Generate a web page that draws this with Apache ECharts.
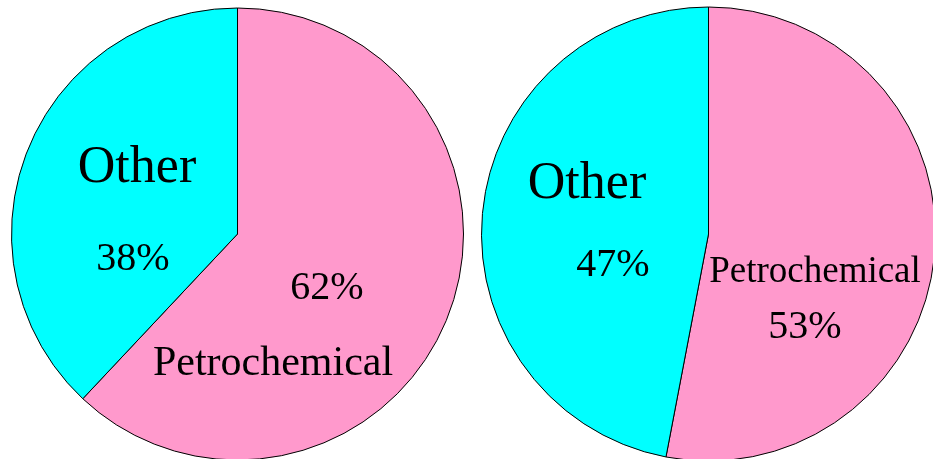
<!DOCTYPE html>
<html>
<head>
<meta charset="utf-8">
<script src="https://cdn.jsdelivr.net/npm/echarts@6/dist/echarts.min.js"></script>
<style>
  html, body { margin: 0; padding: 0; background: #fff; }
  #chart { width: 933px; height: 459px; }
</style>
</head>
<body>
<div id="chart"></div>
<script>
// Share of each sector, two periods side by side
const categories = ['Petrochemical', 'Other'];
const leftValues = [62, 38];
const rightValues = [53, 47];
const sliceColors = ['#ff99cc', '#00ffff'];

const FONT = '"Liberation Serif", "Times New Roman", serif';

function pieSeries(values, center, radius) {
  return {
    type: 'pie',
    center: center,
    radius: radius,
    startAngle: 90,
    clockwise: true,
    silent: true,
    label: { show: false },
    labelLine: { show: false },
    itemStyle: { borderColor: '#000', borderWidth: 1 },
    data: categories.map((name, i) => ({
      name: name,
      value: values[i],
      itemStyle: { color: sliceColors[i] }
    }))
  };
}

function txt(str, x, y, size) {
  return {
    type: 'text',
    x: x,
    y: y,
    silent: true,
    z: 100,
    style: {
      text: str,
      font: size + 'px ' + FONT,
      fill: '#000',
      align: 'center',
      verticalAlign: 'middle'
    }
  };
}

const pct = v => v + '%';

const chart = echarts.init(document.getElementById('chart'), null, { renderer: 'canvas' });
chart.setOption({
  backgroundColor: '#fff',
  animation: false,
  series: [
    pieSeries(leftValues, [237.5, 234], 226),
    pieSeries(rightValues, [708.5, 234], 227)
  ],
  graphic: [
    // left pie
    txt(categories[1], 137, 168, 52),
    txt(pct(leftValues[1]), 133, 259, 40),
    txt(pct(leftValues[0]), 327, 288, 40),
    txt(categories[0], 273, 364, 42),
    // right pie
    txt(categories[1], 587, 184, 52),
    txt(pct(rightValues[1]), 613, 265, 40),
    txt(categories[0], 815, 272, 37),
    txt(pct(rightValues[0]), 805, 327, 40)
  ]
});
</script>
</body>
</html>
